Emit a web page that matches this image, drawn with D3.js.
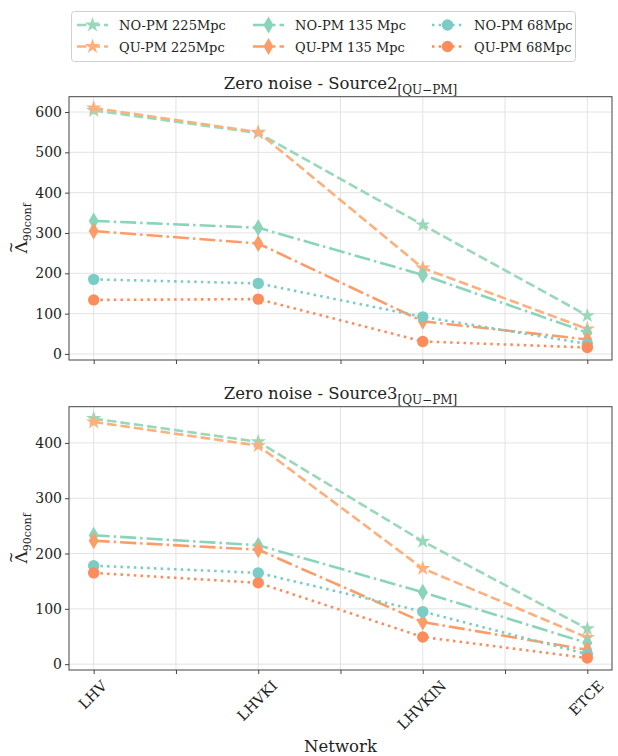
<html>
<head>
<meta charset="utf-8">
<script src="https://d3js.org/d3.v7.min.js"></script>
<style>
 body { margin: 0; background: #fff; }
 svg text { font-family: "DejaVu Serif", serif; fill: #222; }
</style>
</head>
<body>
<script>
// networks along x
var networks = ["LHV", "LHVKI", "LHVKIN", "ETCE"];
var seriesNames = ["NO-PM 225Mpc", "QU-PM 225Mpc", "NO-PM 135 Mpc", "QU-PM 135 Mpc", "NO-PM 68Mpc", "QU-PM 68Mpc"];
// Source2 panel values
var src2_no225 = [604, 548, 320, 95];
var src2_qu225 = [610, 550, 213, 62];
var src2_no135 = [330, 313, 196, 53];
var src2_qu135 = [305, 274, 81, 36];
var src2_no68  = [185, 175, 92, 25];
var src2_qu68  = [134, 136, 31, 16];
// Source3 panel values
var src3_no225 = [444, 402, 222, 64];
var src3_qu225 = [438, 395, 173, 48];
var src3_no135 = [233, 215, 130, 38];
var src3_qu135 = [223, 207, 76, 26];
var src3_no68  = [178, 165, 95, 18];
var src3_qu68  = [165, 147, 49, 11];
var yTicks2 = [0, 100, 200, 300, 400, 500, 600];
var yTicks3 = [0, 100, 200, 300, 400];

var colors  = ["#99d8b8", "#fdb07e", "#8ad4bc", "#fc9c68", "#7accc4", "#fc8c5c"];
var shapes  = ["star", "star", "diamond", "diamond", "circle", "circle"];
var dashes  = ["9.5,4", "9.5,4", "16,4,2.5,4", "16,4,2.5,4", "2.5,4.2", "2.5,4.2"];

var W = 618, H = 756;
var svg = d3.select("body").append("svg").attr("width", W).attr("height", H);

var x = d3.scaleLinear().domain([-0.15, 3.15]).range([69, 612]);

function markerPath(shape) {
  if (shape == "star") {
    var R = 8, r = R * 0.382, p = [];
    for (var i = 0; i < 10; i++) {
      var a = -Math.PI / 2 + i * Math.PI / 5, rr = i % 2 ? r : R;
      p.push([rr * Math.cos(a), rr * Math.sin(a)]);
    }
    return "M" + p.join("L") + "Z";
  }
  if (shape == "diamond") return "M0,-8.5L5,0L0,8.5L-5,0Z";
  return "M5.7,0A5.7,5.7 0 1,1 -5.7,0A5.7,5.7 0 1,1 5.7,0Z";
}

function panel(top, bottom, ydom, yticks, data, title, showLabels) {
  var y = d3.scaleLinear().domain(ydom).range([bottom, top]);
  var g = svg.append("g");
  // grid
  g.selectAll(".gx").data(d3.range(0, 3.01, 0.5)).enter().append("line")
    .attr("x1", d => x(d)).attr("x2", d => x(d)).attr("y1", top).attr("y2", bottom)
    .attr("stroke", "#e0e0e0").attr("stroke-width", 0.9);
  g.selectAll(".gy").data(yticks).enter().append("line")
    .attr("x1", x.range()[0]).attr("x2", x.range()[1]).attr("y1", d => y(d)).attr("y2", d => y(d))
    .attr("stroke", "#e0e0e0").attr("stroke-width", 0.9);

  // series
  var line = d3.line().x((d, i) => x(i)).y(d => y(d));
  data.forEach(function(vals, k) {
    g.append("path").attr("d", line(vals)).attr("fill", "none")
      .attr("stroke", colors[k]).attr("stroke-width", 2.6)
      .attr("stroke-dasharray", dashes[k]);
    g.selectAll(null).data(vals).enter().append("path")
      .attr("d", markerPath(shapes[k]))
      .attr("transform", (d, i) => "translate(" + x(i) + "," + y(d) + ")")
      .attr("fill", colors[k]);
  });

  // spines
  g.append("rect").attr("x", x.range()[0]).attr("y", top)
    .attr("width", x.range()[1] - x.range()[0]).attr("height", bottom - top)
    .attr("fill", "none").attr("stroke", "#444").attr("stroke-width", 1);

  // ticks
  var xa = d3.axisBottom(x).tickValues(d3.range(0, 3.01, 0.5)).tickSize(4).tickFormat("");
  var gx = g.append("g").attr("transform", "translate(0," + bottom + ")").call(xa);
  gx.select(".domain").remove();
  gx.selectAll("line").attr("stroke", "#444");
  var ya = d3.axisLeft(y).tickValues(yticks).tickSize(4).tickPadding(3);
  var gy = g.append("g").attr("transform", "translate(" + x.range()[0] + ",0)").call(ya);
  gy.select(".domain").remove();
  gy.selectAll("line").attr("stroke", "#444");
  gy.attr("font-family", null).attr("font-size", null);
  gy.selectAll("text").style("font-family", "'DejaVu Serif', serif")
    .attr("font-size", 14).attr("fill", "#222");

  // title
  var t = g.append("text").attr("x", (x.range()[0] + x.range()[1]) / 2).attr("y", top - 8)
    .attr("text-anchor", "middle").attr("font-size", 16.5);
  t.append("tspan").text(title);
  t.append("tspan").attr("font-size", 12).attr("dy", 5).text("[QU\u2212PM]");

  // y label: Lambda with tilde above
  var cy = (top + bottom) / 2;
  var yl = g.append("g").attr("transform", "translate(27," + cy + ") rotate(-90)");
  var lt = yl.append("text").attr("text-anchor", "middle").attr("font-size", 17);
  lt.append("tspan").text("\u039B");
  lt.append("tspan").attr("font-size", 11).attr("dy", 3.5).text("90conf");
  var lw = lt.node().getComputedTextLength();
  yl.append("text").attr("x", -lw / 2 + 6).attr("y", -11).attr("text-anchor", "middle")
    .attr("font-size", 14).text("~");

  if (showLabels) {
    networks.forEach(function(n, i) {
      var tx = g.append("text").attr("font-size", 14.5).attr("text-anchor", "middle")
        .attr("dominant-baseline", "central").text(n);
      var w = tx.node().getComputedTextLength(), h = 12;
      var half = (w + h) * Math.SQRT1_2 / 2;
      tx.attr("transform", "translate(" + (x(i) - 1) + "," + (bottom + 9 + half) + ") rotate(-45)");
    });
    g.append("text").attr("x", (x.range()[0] + x.range()[1]) / 2).attr("y", 752)
      .attr("text-anchor", "middle").attr("font-size", 16.5).text("Network");
  }
}

panel(96.7, 360, [-15, 638], yTicks2,
  [src2_no225, src2_qu225, src2_no135, src2_qu135, src2_no68, src2_qu68], "Zero noise - Source2", false);
panel(406.7, 670, [-10.6, 465.5], yTicks3,
  [src3_no225, src3_qu225, src3_no135, src3_qu135, src3_no68, src3_qu68], "Zero noise - Source3", true);

// legend
var lg = svg.append("g");
lg.append("rect").attr("x", 71.5).attr("y", 11.5).attr("width", 504).attr("height", 50)
  .attr("rx", 3).attr("fill", "#fff").attr("stroke", "#d0d0d0").attr("stroke-width", 1);
var colX = [77, 253, 432];
seriesNames.forEach(function(name, k) {
  var cx = colX[Math.floor(k / 2)], cy = k % 2 ? 46.5 : 25;
  lg.append("line").attr("x1", cx).attr("x2", cx + 31).attr("y1", cy).attr("y2", cy)
    .attr("stroke", colors[k]).attr("stroke-width", 2.6).attr("stroke-dasharray", dashes[k]);
  lg.append("path").attr("d", markerPath(shapes[k]))
    .attr("transform", "translate(" + (cx + 15.5) + "," + cy + ")").attr("fill", colors[k]);
  lg.append("text").attr("x", cx + 42).attr("y", cy + 5).attr("font-size", 13).text(name);
});
</script>
</body>
</html>
